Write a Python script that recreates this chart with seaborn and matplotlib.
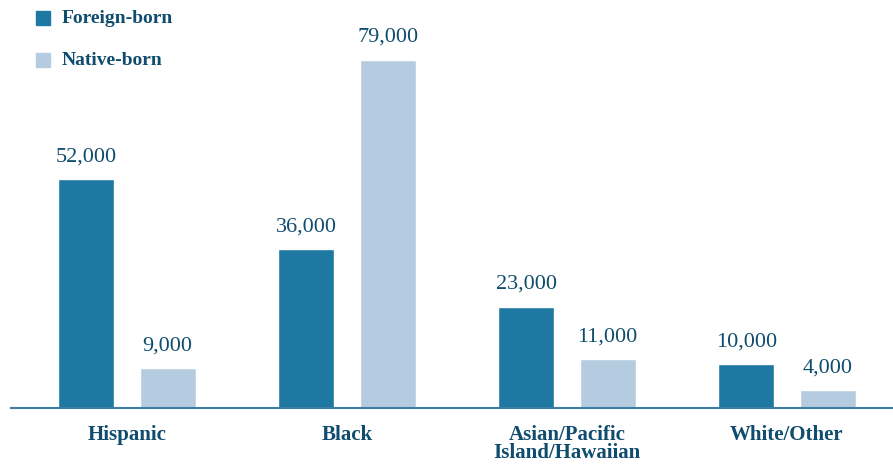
import numpy as np
import pandas as pd
import matplotlib.pyplot as plt
import seaborn as sns

# Data
categories = ["Hispanic", "Black", "Asian/Pacific\nIsland/Hawaiian", "White/Other"]
foreign_born = [52000, 36000, 23000, 10000]
native_born = [9000, 79000, 11000, 4000]
series = ["Foreign-born", "Native-born"]

df = pd.DataFrame({
    "group": categories * 2,
    "origin": [series[0]] * 4 + [series[1]] * 4,
    "count": foreign_born + native_born,
})

text_color = "#0f4c6e"
palette = {"Foreign-born": "#1e78a2", "Native-born": "#b5cce0"}

sns.set_style("white")
plt.rcParams["font.family"] = ["Liberation Serif", "DejaVu Serif"]

fig = plt.figure(figsize=(8.93, 4.66), dpi=100)
ax = fig.add_axes([0.0123, 0.1245, 0.9877, 0.8755])

sns.barplot(data=df, x="group", y="count", hue="origin", palette=palette,
            width=0.74, gap=0.312, saturation=1, ax=ax, legend=False)

# value labels above bars
for cont in ax.containers:
    ax.bar_label(cont, labels=[f"{v:,.0f}" for v in cont.datavalues],
                 padding=9, fontsize=16, color=text_color)

ax.set_ylim(0, 92500)
x_left = -0.527
ax.set_xlim(x_left, 3.482)

# axis styling
for s in ["top", "right", "left"]:
    ax.spines[s].set_visible(False)
ax.spines["bottom"].set_color("#3d7da6")
ax.spines["bottom"].set_linewidth(1.5)
ax.set_yticks([])
ax.set_xlabel("")
ax.set_ylabel("")

ax.set_xticks(range(len(categories)))
ax.set_xticklabels(categories, fontsize=15, fontweight="bold", color=text_color,
                   linespacing=0.92, va="top")
ax.tick_params(axis="x", which="major", length=0, pad=12)

# group separators
ax.set_xticks([x_left] + [i - 0.49 for i in range(1, len(categories))], minor=True)
ax.tick_params(axis="x", which="minor", direction="in", length=6, width=1.2,
               color="#3d7da6")

# legend as colored squares with bold labels
for i, name in enumerate(series):
    y = 0.961 - i * 0.090
    fig.patches.append(plt.Rectangle((0.0403, y - 0.015), 0.0157, 0.030,
                                     transform=fig.transFigure,
                                     color=palette[name], zorder=5))
    fig.text(0.069, y, name, fontsize=14, fontweight="bold", color=text_color,
             va="center", ha="left")

fig.savefig("out.png", dpi=100)
